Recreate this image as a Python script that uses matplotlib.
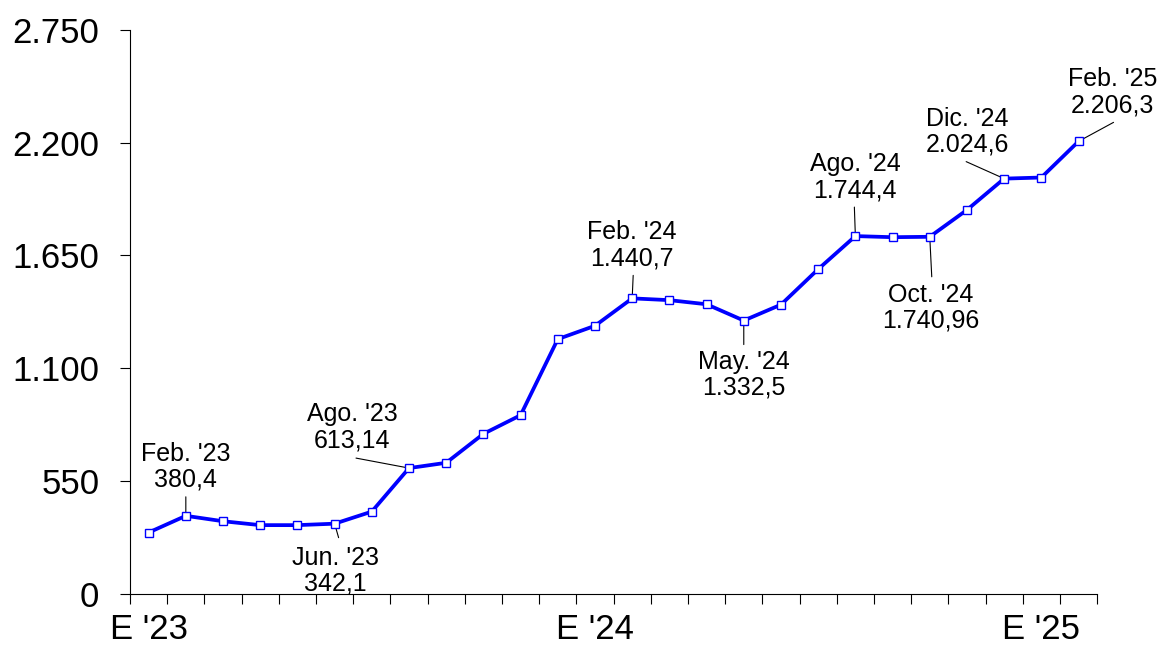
import numpy as np
import matplotlib.pyplot as plt

plt.rcParams['font.family'] = ['Liberation Sans', 'DejaVu Sans']

# monthly values, Jan '23 .. Feb '25
months = ["Ene '23", "Feb. '23", "Mar. '23", "Abr. '23", "May. '23", "Jun. '23",
          "Jul. '23", "Ago. '23", "Sep. '23", "Oct. '23", "Nov. '23", "Dic. '23",
          "Ene '24", "Feb. '24", "Mar. '24", "Abr. '24", "May. '24", "Jun. '24",
          "Jul. '24", "Ago. '24", "Sep. '24", "Oct. '24", "Nov. '24", "Dic. '24",
          "Ene '25", "Feb. '25"]
values = [299, 380.4, 354, 335, 335, 342.1, 401, 613.14, 639, 780, 871, 1242,
          1307, 1440.7, 1432, 1412, 1332.5, 1410, 1583, 1744.4, 1739, 1740.96,
          1872, 2024.6, 2030, 2206.3]

year_pos = [0, 12, 24]
year_labels = ["E '23", "E '24", "E '25"]

yticks = [0, 550, 1100, 1650, 2200, 2750]
ytick_labels = ["0", "550", "1.100", "1.650", "2.200", "2.750"]

# annotated points: index, label text, text offset px, va, line end offset px
notes = [
    (1, "Feb. '23\n380,4", (0, 24), 'bottom', (0, 19)),
    (5, "Jun. '23\n342,1", (1, -22), 'top', (4, -14)),
    (7, "Ago. '23\n613,14", (-57, 16), 'bottom', (-53, 10)),
    (13, "Feb. '24\n1.440,7", (0, 28), 'bottom', (1, 23)),
    (16, "May. '24\n1.332,5", (0, -29), 'top', (0, -24)),
    (19, "Ago. '24\n1.744,4", (0, 34), 'bottom', (-1, 29)),
    (21, "Oct. '24\n1.740,96", (1, -46), 'top', (2, -40)),
    (23, "Dic. '24\n2.024,6", (-37, 22), 'bottom', (-38, 17)),
    (25, "Feb. '25\n2.206,3", (34, 24), 'bottom', (35, 19)),
]

x = np.arange(len(values))

fig = plt.figure(figsize=(11.61, 6.49), dpi=100)
ax = fig.add_axes([0.112, 0.085, 0.833, 0.869])

ax.plot(x, values, color='#0000ff', lw=2.7, marker='s', markersize=6.3,
        markerfacecolor='white', markeredgecolor='#0000ff', markeredgewidth=1.0,
        zorder=3)

for i, txt, toff, va, loff in notes:
    ax.annotate('', xy=(x[i], values[i]), xytext=loff, textcoords='offset pixels',
                arrowprops=dict(arrowstyle='-', color='black', lw=0.8,
                                shrinkA=0, shrinkB=0), zorder=2)
    ax.annotate(txt, xy=(x[i], values[i]), xytext=toff, textcoords='offset pixels',
                ha='center', va=va, fontsize=18, linespacing=1.1)

ax.set_xlim(-0.5, len(values) - 0.5)
ax.set_ylim(0, 2750)

ax.set_yticks(yticks)
ax.set_yticklabels(ytick_labels)
ax.tick_params(axis='y', labelsize=25, length=7, width=0.8, pad=15)

ax.set_xticks(np.arange(-0.5, len(values), 1.0))
ax.set_xticklabels([])
ax.tick_params(axis='x', which='major', length=7, width=0.8)
ax.set_xticks(year_pos, minor=True)
ax.set_xticklabels(year_labels, minor=True)
ax.tick_params(axis='x', which='minor', length=0, labelsize=25, pad=14)

for s in ['top', 'right']:
    ax.spines[s].set_visible(False)
for s in ['left', 'bottom']:
    ax.spines[s].set_linewidth(0.8)

fig.savefig('out.png', dpi=100)
